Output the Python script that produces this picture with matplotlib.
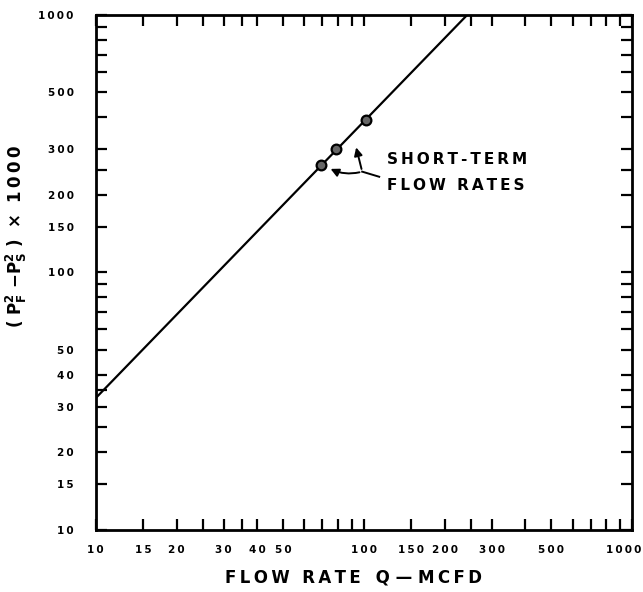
import matplotlib.pyplot as plt
import matplotlib.transforms as mtransforms
from matplotlib.ticker import FixedLocator, FixedFormatter, NullLocator

# deliverability line (end points)
line_q = [10, 243]
line_dp = [32.5, 1000]

# short-term test points
test_q = [69, 78.5, 101.5]
test_dp = [262, 300, 392]

tick_vals = [10, 15, 20, 25, 30, 35, 40, 50, 60, 70, 80, 90,
             100, 150, 200, 250, 300, 400, 500, 600, 700, 800, 900, 1000]
label_vals = [10, 15, 20, 30, 40, 50, 100, 150, 200, 300, 500, 1000]


def spaced(s):
    # typewriter-like letter spacing of the original print
    return '\u2009'.join(s)


fig = plt.figure(figsize=(6.43, 5.92), dpi=100)
ax = fig.add_axes([0.149, 0.105, 0.834, 0.870])

ax.plot(line_q, line_dp, color='black', lw=1.6)
ax.plot(test_q, test_dp, 'o', ms=7, mfc='#666666', mec='black', mew=1.6)

ax.set_xscale('log')
ax.set_yscale('log')
ax.set_xlim(10, 1000)
ax.set_ylim(10, 1000)

labels = [spaced(str(v)) if v in label_vals else '' for v in tick_vals]
for axis in (ax.xaxis, ax.yaxis):
    axis.set_major_locator(FixedLocator(tick_vals))
    axis.set_major_formatter(FixedFormatter(labels))
    axis.set_minor_locator(NullLocator())

ax.tick_params(which='both', direction='in', length=8, width=1.6,
               top=True, right=True, labelsize=7.5)
ax.tick_params(axis='x', pad=11)
ax.tick_params(axis='y', pad=16)
for lab in ax.get_xticklabels() + ax.get_yticklabels():
    lab.set_fontweight('bold')
# keep the last x label inside the figure
last = ax.get_xticklabels()[-1]
last.set_transform(last.get_transform() +
                   mtransforms.ScaledTranslation(-6 / 72, 0, fig.dpi_scale_trans))
for s in ax.spines.values():
    s.set_linewidth(2)

ax.set_xlabel(spaced('FLOW RATE ') + ' ' + spaced('Q') + ' — ' + spaced('MCFD'),
              fontsize=12, fontweight='bold', labelpad=9)
ax.xaxis.set_label_coords(0.48, -0.075)
ax.set_ylabel(r'( $\mathbf{P_F^2}$ $\mathbf{-P_S^2}$ )  ×  ' + spaced('1000'),
              fontsize=12, fontweight='bold')
ax.yaxis.set_label_coords(-0.125, 0.57)

# annotation with two arrows
ax.plot([114, 98.5], [235, 246], color='black', lw=1.4)
ax.annotate('', xy=(93, 313), xytext=(98.5, 246),
            arrowprops=dict(arrowstyle='-|>', color='black', lw=1.4, mutation_scale=12))
ax.annotate('', xy=(73.5, 255), xytext=(98.5, 246),
            arrowprops=dict(arrowstyle='-|>', color='black', lw=1.4, mutation_scale=12,
                            connectionstyle='arc3,rad=-0.2'))
ax.text(122, 245, spaced('SHORT-TERM') + '\n' + spaced('FLOW RATES'), fontsize=11,
        fontweight='bold', va='center', ha='left', linespacing=1.9)

fig.savefig('out.png', dpi=100)
